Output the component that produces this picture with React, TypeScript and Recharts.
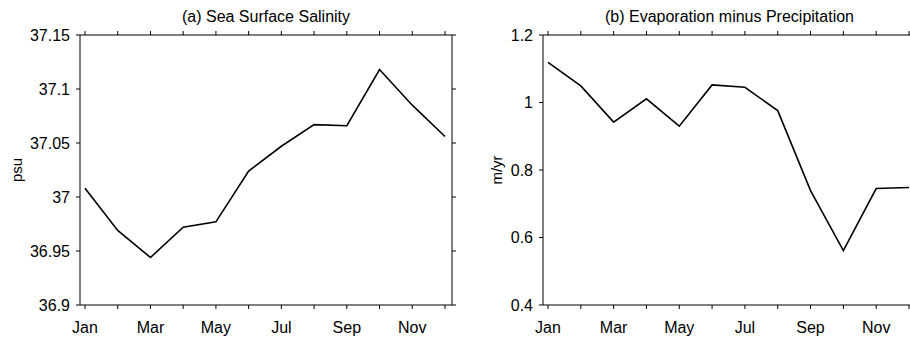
import { LineChart, Line, XAxis, YAxis } from "recharts";

const months = ["Jan", "Feb", "Mar", "Apr", "May", "Jun", "Jul", "Aug", "Sep", "Oct", "Nov", "Dec"];

// (a) sea surface salinity, psu
const salinity = [37.008, 36.969, 36.944, 36.972, 36.977, 37.024, 37.047, 37.067, 37.066, 37.118, 37.085, 37.056];
const salinityTicks = [36.9, 36.95, 37, 37.05, 37.1, 37.15];

// (b) evaporation minus precipitation, m/yr
const eMinusP = [1.119, 1.049, 0.942, 1.011, 0.93, 1.052, 1.045, 0.976, 0.739, 0.561, 0.745, 0.748];
const empTicks = [0.4, 0.6, 0.8, 1, 1.2];

const FONT = "'Liberation Sans', Arial, Helvetica, sans-serif";
const tickStyle = { fill: "#000", fontSize: 16, fontFamily: FONT };

type PanelProps = {
  left: number;
  width: number;
  yWidth: number;
  rightMargin: number;
  title: string;
  unit: string;
  unitOffset: number;
  values: number[];
  ticks: number[];
};

function Panel({ left, width, yWidth, rightMargin, title, unit, unitOffset, values, ticks }: PanelProps) {
  const data = months.map((m, i) => ({ month: m, v: values[i] }));
  const domain: [number, number] = [ticks[0], ticks[ticks.length - 1]];
  const plotW = width - yWidth - rightMargin - 1;
  return (
    <div style={{ position: "absolute", left, top: 0, width, height: 339 }}>
      <div
        style={{
          position: "absolute",
          left: yWidth,
          width: plotW,
          top: 9,
          textAlign: "center",
          fontFamily: FONT,
          fontSize: 16,
          lineHeight: "16px",
          color: "#000",
          whiteSpace: "nowrap",
        }}
      >
        {title}
      </div>
      <LineChart
        width={width}
        height={339}
        data={data}
        margin={{ top: 34, right: rightMargin, bottom: 0, left: 0 }}
      >
        <XAxis
          dataKey="month"
          interval={0}
          padding={{ left: 5, right: 7 }}
          height={34}
          tickSize={4}
          tickMargin={13}
          stroke="#000"
          tick={tickStyle}
          tickFormatter={(v: string, i: number) => (i % 2 === 0 ? v : "")}
        />
        <XAxis
          xAxisId="top"
          orientation="top"
          dataKey="month"
          interval={0}
          padding={{ left: 5, right: 7 }}
          height={1}
          tickSize={4}
          stroke="#000"
          tick={tickStyle}
          tickFormatter={() => ""}
        />
        <YAxis
          domain={domain}
          ticks={ticks}
          width={yWidth}
          tickSize={4}
          tickMargin={6}
          stroke="#000"
          tick={tickStyle}
          label={{
            value: unit,
            angle: -90,
            position: "insideLeft",
            offset: unitOffset,
            style: { textAnchor: "middle", fill: "#000", fontSize: 15, fontFamily: FONT },
          }}
        />
        <YAxis
          yAxisId="right"
          orientation="right"
          domain={domain}
          ticks={ticks}
          width={1}
          tickSize={4}
          stroke="#000"
          tick={tickStyle}
          tickFormatter={() => ""}
        />
        {/* invisible copy so the top and right frame axes get drawn */}
        <Line
          xAxisId="top"
          yAxisId="right"
          dataKey="v"
          stroke="none"
          dot={false}
          activeDot={false}
          isAnimationActive={false}
        />
        <Line
          type="linear"
          dataKey="v"
          stroke="#000"
          strokeWidth={1.6}
          dot={false}
          isAnimationActive={false}
        />
      </LineChart>
    </div>
  );
}

export default function App() {
  return (
    <div
      style={{
        position: "absolute",
        left: 0,
        top: 0,
        width: 910,
        height: 339,
        overflow: "hidden",
        background: "#fff",
      }}
    >
      <Panel
        left={0}
        width={470}
        yWidth={80}
        rightMargin={17}
        title="(a) Sea Surface Salinity"
        unit="psu"
        unitOffset={17}
        values={salinity}
        ticks={salinityTicks}
      />
      <Panel
        left={470}
        width={450}
        yWidth={73}
        rightMargin={3}
        title="(b) Evaporation minus Precipitation"
        unit="m/yr"
        unitOffset={27}
        values={eMinusP}
        ticks={empTicks}
      />
    </div>
  );
}
